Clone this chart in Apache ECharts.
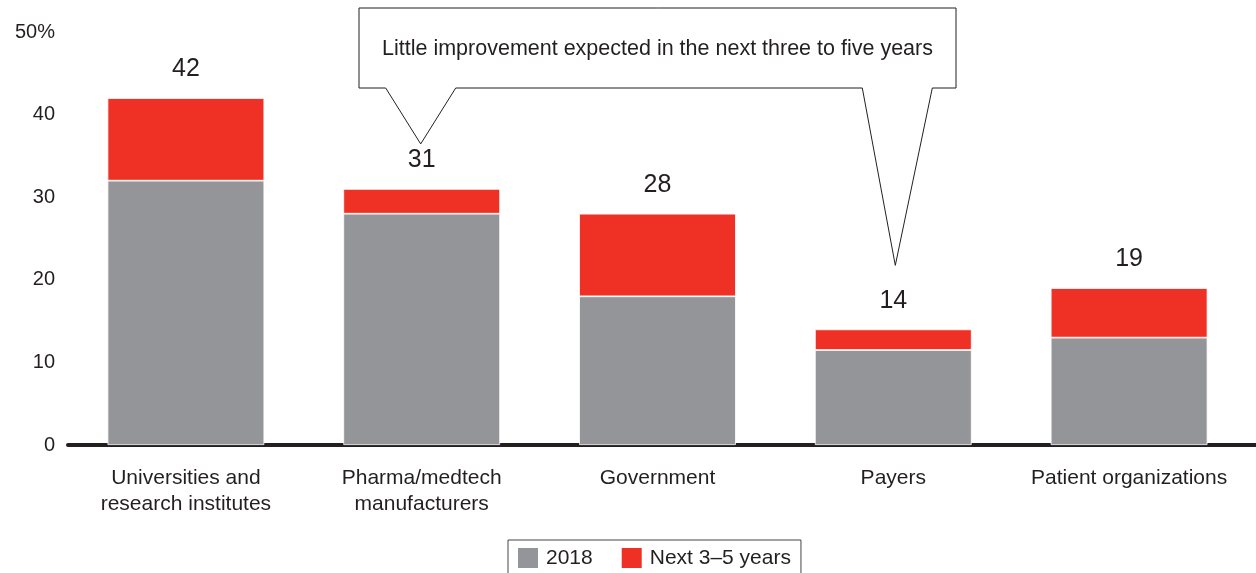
<!DOCTYPE html>
<html>
<head>
<meta charset="utf-8">
<script src="https://cdn.jsdelivr.net/npm/echarts@6/dist/echarts.min.js"></script>
<style>
  html, body { margin: 0; padding: 0; background: #fff; }
  #chart { width: 1256px; height: 573px; }
</style>
</head>
<body>
<div id="chart"></div>
<script>
// Share of respondents per stakeholder group (%)
const categories = [
  'Universities and\nresearch institutes',
  'Pharma/medtech\nmanufacturers',
  'Government',
  'Payers',
  'Patient organizations'
];
const totals = [42, 31, 28, 14, 19];          // labelled totals
const values2018 = [32, 28, 18, 11.5, 13];     // 2018 share
const valuesNext = totals.map((t, i) => +(t - values2018[i]).toFixed(1)); // added in next 3–5 years
const yTicks = [0, 10, 20, 30, 40, 50];
const calloutText = 'Little improvement expected in the next three to five years';

const INK = '#231f20';
const FONT = "'Liberation Sans', Arial, sans-serif";

const chart = echarts.init(document.getElementById('chart'), null, { renderer: 'canvas' });

chart.setOption({
  animation: false,
  textStyle: { fontFamily: FONT, color: INK },
  grid: { left: 68, right: 9, top: 32, bottom: 128, containLabel: false },
  legend: {
    top: 540,
    left: 508,
    data: ['2018', 'Next 3–5 years'],
    itemWidth: 22,
    itemHeight: 22,
    itemGap: 27,
    borderColor: '#444',
    borderWidth: 1,
    borderRadius: 0,
    padding: [6, 10, 10, 8],
    icon: 'rect',
    textStyle: { fontSize: 21, color: INK, fontFamily: FONT, padding: [0, 0, 0, 2] }
  },
  xAxis: {
    type: 'category',
    data: categories,
    axisLine: { show: true, lineStyle: { color: INK, width: 4 } },
    axisTick: { show: false },
    axisLabel: { fontSize: 21, color: INK, lineHeight: 26, margin: 20, interval: 0, fontFamily: FONT }
  },
  yAxis: {
    type: 'value',
    min: yTicks[0],
    max: yTicks[yTicks.length - 1],
    interval: 10,
    splitLine: { show: false },
    axisLine: { show: false },
    axisTick: { show: false },
    axisLabel: {
      fontSize: 20, color: INK, margin: 13, fontFamily: FONT,
      formatter: v => (v === yTicks[yTicks.length - 1] ? v + '%' : String(v))
    }
  },
  series: [
    {
      name: '2018',
      type: 'bar',
      stack: 'total',
      barWidth: '66.5%',
      data: values2018,
      itemStyle: { color: '#939598', borderColor: '#fff', borderWidth: 0.8 }
    },
    {
      name: 'Next 3–5 years',
      type: 'bar',
      stack: 'total',
      data: valuesNext,
      itemStyle: { color: '#ee3124', borderColor: '#fff', borderWidth: 0.8 },
      label: {
        show: true,
        position: 'top',
        distance: 16,
        fontSize: 25,
        color: INK,
        fontFamily: FONT,
        formatter: p => String(totals[p.dataIndex])
      }
    }
  ]
});

// Speech-bubble callout pointing at the Pharma and Payers totals,
// plus the baseline running on to the right edge
function drawOverlays() {
  const px = i => chart.convertToPixel({ xAxisIndex: 0 }, categories[i]);
  const py = v => chart.convertToPixel({ yAxisIndex: 0 }, v);
  const cx = px(2);
  const boxW = 597, top = 8, bottom = 88;
  const L = cx - boxW / 2, R = cx + boxW / 2;
  const t1 = [px(1) - 1, py(totals[1]) - 45];
  const t2 = [px(3) + 2, py(totals[3]) - 64];
  const pts = [
    [L, top], [R, top], [R, bottom],
    [t2[0] + 37, bottom], t2, [t2[0] - 33, bottom],
    [t1[0] + 35, bottom], t1, [t1[0] - 35, bottom],
    [L, bottom]
  ];
  const y0 = py(0);
  const xEnd = px(categories.length - 1) + (px(1) - px(0)) / 2;
  chart.setOption({
    graphic: [
      {
        type: 'line',
        z: 50,
        shape: { x1: xEnd - 2, y1: y0, x2: chart.getWidth(), y2: y0 },
        style: { stroke: INK, lineWidth: 4 }
      },
      {
        type: 'polygon',
        z: 100,
        shape: { points: pts },
        style: { fill: '#fff', stroke: INK, lineWidth: 1 }
      },
      {
        type: 'text',
        z: 101,
        x: cx,
        y: (top + bottom) / 2 + 1,
        style: {
          text: calloutText,
          fontSize: 21.5,
          fontFamily: FONT,
          fill: INK,
          align: 'center',
          verticalAlign: 'middle'
        }
      }
    ]
  });
}
drawOverlays();
</script>
</body>
</html>
